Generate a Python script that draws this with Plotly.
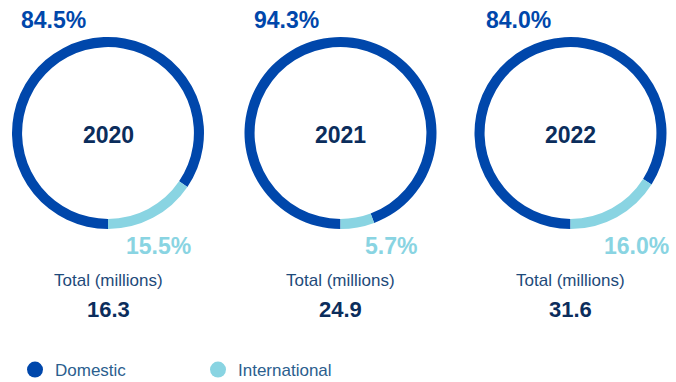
import plotly.graph_objects as go

years = ["2020", "2021", "2022"]
domestic = [84.5, 94.3, 84.0]
international = [15.5, 5.7, 16.0]
totals = ["16.3", "24.9", "31.6"]
segments = ["Domestic", "International"]

W, H = 676, 382
DOM_C = "#0047AB"
INT_C = "#89D4E2"
NAVY = "#0B2D5C"
LEG_TXT = "#2B5E8E"
FONT = "Arial, Liberation Sans, sans-serif"

# layout (pixel positions)
centers_x = [108, 340.5, 570.5]
center_y = 133
R = 96
dom_label_left = [19, 252, 484]
int_label_right = [193, 419, 671]

fig = go.Figure()

def px(x):
    return x / W

def py(y):
    return 1 - y / H

annotations = []
def ann(x, y, text, size, color, xanchor="center"):
    annotations.append(dict(x=px(x), y=py(y), xref="paper", yref="paper", text=text,
                            font=dict(size=size, color=color, family=FONT),
                            showarrow=False, xanchor=xanchor, yanchor="middle"))

for i, yr in enumerate(years):
    cx = centers_x[i]
    fig.add_trace(go.Pie(
        labels=segments,
        values=[domestic[i], international[i]],
        hole=0.895,
        sort=False,
        direction="clockwise",
        rotation=180,
        marker=dict(colors=[DOM_C, INT_C], line=dict(width=0)),
        textinfo="none",
        hoverinfo="label+percent",
        showlegend=False,
        domain=dict(x=[px(cx - R), px(cx + R)], y=[py(center_y + R), py(center_y - R)]),
    ))
    ann(cx, center_y + 2, f"<b>{yr}</b>", 23, NAVY)
    ann(dom_label_left[i], 20, f"<b>{domestic[i]:.1f}%</b>", 23, DOM_C, "left")
    ann(int_label_right[i], 246, f"<b>{international[i]:.1f}%</b>", 23, INT_C, "right")
    ann(cx, 280, "Total (millions)", 17, "#1E4A7A")
    ann(cx, 309, f"<b>{totals[i]}</b>", 22, NAVY)

# legend entries via dummy scatter traces
for name, col in zip(segments, [DOM_C, INT_C]):
    fig.add_trace(go.Scatter(x=[None], y=[None], mode="markers", name=name,
                             marker=dict(symbol="circle", size=18, color=col)))

fig.update_layout(
    width=W, height=H,
    margin=dict(l=0, r=0, t=0, b=0, pad=0, autoexpand=False),
    paper_bgcolor="white", plot_bgcolor="white",
    xaxis=dict(visible=False), yaxis=dict(visible=False),
    annotations=annotations,
    showlegend=True,
    legend=dict(orientation="h", x=px(15), y=py(370), xanchor="left", yanchor="middle",
                font=dict(size=17, color=LEG_TXT, family=FONT),
                entrywidth=138, entrywidthmode="pixels", itemsizing="trace",
                bgcolor="rgba(0,0,0,0)"),
    font=dict(family=FONT),
)

fig.write_html("out.html")
